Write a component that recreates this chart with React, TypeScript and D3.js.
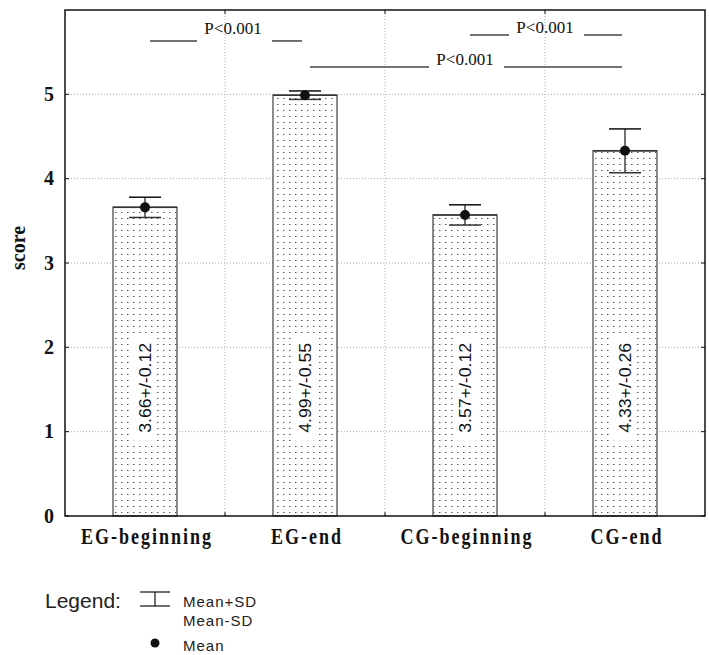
import React from "react";
import * as d3 from "d3";

const categories = ["EG-beginning", "EG-end", "CG-beginning", "CG-end"];
const means = [3.66, 4.99, 3.57, 4.33];
const errHalf = [0.12, 0.05, 0.12, 0.26];
const valueLabels = ["3.66+/-0.12", "4.99+/-0.55", "3.57+/-0.12", "4.33+/-0.26"];
const yTicks = [0, 1, 2, 3, 4, 5];
const gridTicks = [1, 2, 3, 4, 5];
const pLabels = ["P<0.001", "P<0.001", "P<0.001"];
const pFrom = [0, 1, 2];
const pTo = [1, 3, 3];
const pLineLevel = [5.633, 5.324, 5.704];
const pTextLevel = [5.716, 5.348, 5.727];
const labelLevel = 1.52;

const W = 709;
const H = 655;
const M = { left: 65, right: 705, top: 10, bottom: 516 };

export default function App() {
  const x = d3.scaleBand<string>().domain(categories).range([M.left, M.right]).padding(0);
  const y = d3.scaleLinear().domain([0, 6]).range([M.bottom, M.top]);
  const bw = x.bandwidth() * 0.4;
  const cx = (i: number) => (x(categories[i]) as number) + x.bandwidth() / 2;
  const boundaries = categories.slice(1).map((c) => x(c) as number);
  const serif = "'Liberation Serif', 'Times New Roman', serif";
  const sans = "'Liberation Sans', Arial, sans-serif";

  return (
    <svg width={W} height={H} style={{ position: "absolute", left: 0, top: 0, background: "#fff" }}>
      <defs>
        <pattern id="dots" patternUnits="userSpaceOnUse" width={6} height={6} x={1} y={2}>
          <rect x={0} y={0} width={1.5} height={1} fill="#555" />
        </pattern>
      </defs>
      <rect x={0} y={0} width={W} height={H} fill="#fff" />
      {/* grid */}
      {gridTicks.map((t) => (
        <line key={"h" + t} x1={M.left} x2={M.right} y1={y(t)} y2={y(t)} stroke="#aaa" strokeWidth={1} strokeDasharray="1,2" />
      ))}
      {boundaries.map((b, i) => (
        <line key={"v" + i} x1={b} x2={b} y1={M.top} y2={M.bottom} stroke="#aaa" strokeWidth={1} strokeDasharray="1,2" />
      ))}
      {/* bars */}
      {categories.map((c, i) => {
        const bx = cx(i) - bw / 2;
        return (
          <g key={c}>
            <rect x={bx} y={y(means[i])} width={bw} height={y(0) - y(means[i])} fill="#fff" />
            <rect x={bx} y={y(means[i])} width={bw} height={y(0) - y(means[i])} fill="url(#dots)" stroke="#666" strokeWidth={1.5} />
            <line x1={bx} x2={bx + bw} y1={y(means[i])} y2={y(means[i])} stroke="#333" strokeWidth={1.5} />
          </g>
        );
      })}
      {/* value labels */}
      {categories.map((c, i) => (
        <g key={"l" + c} transform={`translate(${cx(i)},${y(labelLevel)}) rotate(-90)`}>
          <rect x={-53} y={-12} width={106} height={24} fill="#fff" />
          <text x={0} y={0} dy="0.36em" textAnchor="middle" fontFamily={sans} fontSize={17} fill="#111" textLength={90} lengthAdjust="spacingAndGlyphs">
            {valueLabels[i]}
          </text>
        </g>
      ))}
      {/* error bars */}
      {categories.map((c, i) => {
        const hi = y(means[i] + errHalf[i]);
        const lo = y(means[i] - errHalf[i]);
        return (
          <g key={"e" + c}>
            <line x1={cx(i)} x2={cx(i)} y1={hi} y2={lo} stroke="#444" strokeWidth={1.5} />
            <line x1={cx(i) - 16} x2={cx(i) + 16} y1={hi} y2={hi} stroke="#111" strokeWidth={1.5} />
            <line x1={cx(i) - 16} x2={cx(i) + 16} y1={lo} y2={lo} stroke="#333" strokeWidth={1.5} />
            <circle cx={cx(i)} cy={y(means[i])} r={5} fill="#111" />
          </g>
        );
      })}
      {/* frame */}
      <rect x={M.left} y={M.top} width={M.right - M.left} height={M.bottom - M.top} fill="none" stroke="#111" strokeWidth={1.5} />
      {/* ticks */}
      {yTicks.map((t) => (
        <g key={"t" + t}>
          <line x1={M.left} x2={M.left + 4} y1={y(t)} y2={y(t)} stroke="#111" />
          <line x1={M.right} x2={M.right - 4} y1={y(t)} y2={y(t)} stroke="#111" />
          <text x={54} y={y(t)} dy="0.34em" textAnchor="end" fontFamily={serif} fontWeight="bold" fontSize={20} fill="#111">
            {t}
          </text>
        </g>
      ))}
      {boundaries.map((b, i) => (
        <g key={"bt" + i}>
          <line x1={b} x2={b} y1={M.bottom} y2={M.bottom - 4} stroke="#111" />
          <line x1={b} x2={b} y1={M.top} y2={M.top + 4} stroke="#111" />
        </g>
      ))}
      {/* x labels */}
      {categories.map((c, i) => (
        <text key={"x" + c} transform={`translate(${cx(i) + 2},544) scale(1,1.3)`} textAnchor="middle" fontFamily={serif} fontWeight="bold" fontSize={18} letterSpacing={2} fill="#111">
          {c}
        </text>
      ))}
      {/* y title */}
      <text transform={`translate(25,248) rotate(-90)`} textAnchor="middle" fontFamily={serif} fontWeight="bold" fontSize={20} fill="#111">
        score
      </text>
      {/* p annotations */}
      {pLabels.map((p, i) => {
        const x1 = cx(pFrom[i]);
        const x2 = cx(pTo[i]);
        const mid = (x1 + x2) / 2 + (i === 0 ? 8 : 0);
        const ly = y(pLineLevel[i]);
        return (
          <g key={"p" + i}>
            <line x1={x1 + 5} x2={mid - 36} y1={ly} y2={ly} stroke="#444" strokeWidth={1.5} />
            <line x1={mid + 39} x2={x2 - 3} y1={ly} y2={ly} stroke="#444" strokeWidth={1.5} />
            <text x={mid} y={y(pTextLevel[i])} textAnchor="middle" fontFamily={serif} fontSize={17} fill="#111">
              {p}
            </text>
          </g>
        );
      })}
      {/* legend */}
      <text x={45} y={608} fontFamily={sans} fontSize={21} fill="#222">Legend:</text>
      <line x1={140} x2={170} y1={592} y2={592} stroke="#222" strokeWidth={1.3} />
      <line x1={140} x2={170} y1={606} y2={606} stroke="#222" strokeWidth={1.3} />
      <line x1={155} x2={155} y1={592} y2={606} stroke="#222" strokeWidth={1.3} />
      <text x={183} y={607} fontFamily={sans} fontSize={15} letterSpacing={1} fill="#222">Mean+SD</text>
      <text x={183} y={626} fontFamily={sans} fontSize={15} letterSpacing={1} fill="#222">Mean-SD</text>
      <circle cx={155} cy={643} r={4.5} fill="#111" />
      <text x={183} y={651} fontFamily={sans} fontSize={15} letterSpacing={1} fill="#222">Mean</text>
    </svg>
  );
}
